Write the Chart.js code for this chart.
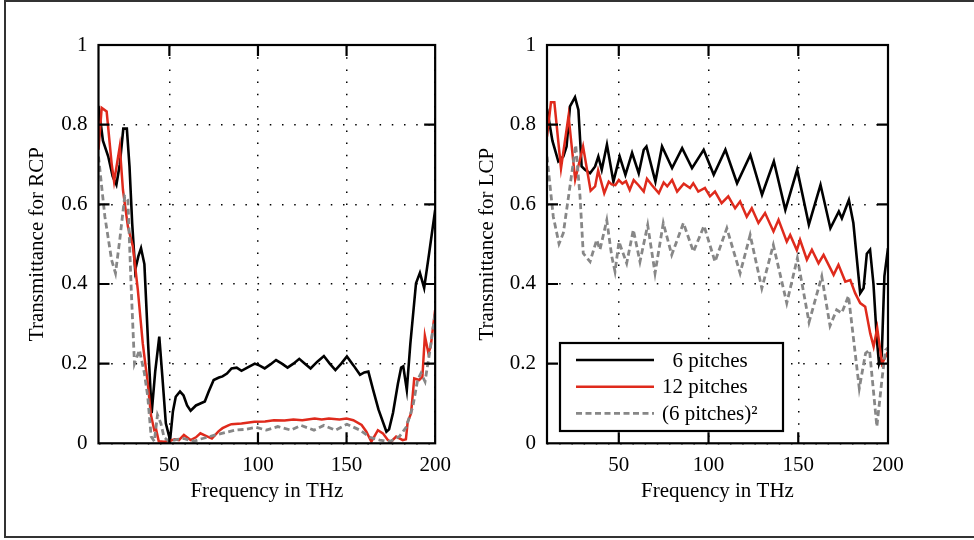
<!DOCTYPE html>
<html>
<head>
<meta charset="utf-8">
<script src="https://cdn.jsdelivr.net/npm/chart.js@4.4.0/dist/chart.umd.min.js"></script>
<style>
  html, body { margin: 0; padding: 0; background: #fff; }
  body { width: 974px; height: 540px; position: relative; overflow: hidden; }
  .frame { position: absolute; left: 4px; top: 0; width: 1000px; height: 534px; border: 2px solid #333; }
  canvas { position: absolute; top: 0; }
  #chartRcp { left: 0; }
  #chartLcp { left: 460px; }
</style>
</head>
<body>
<div class="frame"></div>
<canvas id="chartRcp" width="460" height="540"></canvas>
<canvas id="chartLcp" width="514" height="540"></canvas>
<script>
// RCP, 6 pitches
const rcpFreq6 = [10,12.5,15.5,18,20.1,22,24,26,27.5,29,30.7,32.5,34,35.9,38,40,42,44.3,46,48,50.4,52,53.6,56,58,60,62,65,67.5,70,72.2,75,78,80,82.5,85.1,88,90.7,94,98.2,101,103.8,107,110.2,113.5,116.7,120,123.3,126.5,129.7,133.5,137.2,140.5,143.7,147,150.2,154,157.6,160,162.3,165,168,172.5,174,176.2,179,180.8,182,184,186,189.2,191.4,193.8,196.6,200];
const rcp6 = [0.847,0.76,0.72,0.67,0.649,0.70,0.79,0.79,0.695,0.553,0.435,0.47,0.49,0.45,0.25,0.076,0.18,0.268,0.17,0.05,0.008,0.08,0.117,0.13,0.12,0.095,0.082,0.095,0.1,0.105,0.13,0.159,0.165,0.168,0.175,0.188,0.19,0.182,0.19,0.2,0.195,0.188,0.198,0.209,0.2,0.19,0.2,0.212,0.2,0.188,0.205,0.219,0.2,0.184,0.2,0.218,0.195,0.172,0.178,0.18,0.134,0.085,0.029,0.035,0.076,0.15,0.19,0.193,0.134,0.25,0.402,0.428,0.39,0.477,0.586];

// RCP, 12 pitches
const rcpFreq12 = [10,11.8,14.6,17.4,18.8,22,23.8,26.6,29.4,32.2,35,37.8,39.6,41.5,42.5,44,47,50,53,55.4,58.2,62,65,67.5,70,74,77.7,80,83.3,85,90.7,98,104,109,115,120,125,128,132,136,140,146,150,153.8,158.5,161.2,164,167.7,170.5,173.3,175.1,178,181.7,183.5,184.5,186.4,188.2,191,192.8,194.2,196.2,197.5,200];
const rcp12 = [0.737,0.842,0.833,0.703,0.657,0.745,0.636,0.544,0.494,0.385,0.25,0.151,0.071,0.033,0.035,0.005,0.004,0.006,0.01,0.008,0.021,0.008,0.015,0.025,0.02,0.012,0.03,0.038,0.045,0.048,0.05,0.054,0.055,0.058,0.057,0.06,0.058,0.06,0.062,0.06,0.062,0.06,0.062,0.058,0.046,0.029,0.004,0.033,0.025,0.008,0.004,0.017,0.008,0.01,0.054,0.075,0.163,0.159,0.167,0.27,0.226,0.243,0.335];

// RCP, (6 pitches)^2
const rcpFreqSq = [10,13.6,17.4,19.6,22,24.8,26.6,28.5,30.3,33.1,35.9,37.8,39.7,41.5,43.3,45.2,47,49.7,54.5,58,63.8,67,71.3,75,79.6,87,93,99,104.7,111.2,118.6,124.2,131.6,137.2,143.7,150.2,157.6,163.2,168.8,174.2,179.8,183.6,187.4,190.1,192,194.3,197.1,200];
const rcpSq = [0.72,0.569,0.46,0.427,0.511,0.62,0.61,0.385,0.2,0.234,0.176,0.117,0.017,0.005,0.071,0.05,0.015,0.005,0.01,0.012,0.005,0.01,0.015,0.02,0.025,0.033,0.035,0.04,0.033,0.042,0.033,0.045,0.033,0.045,0.033,0.048,0.033,0.015,0.008,0.004,0.017,0.04,0.092,0.159,0.176,0.155,0.234,0.327];

// LCP, 6 pitches
const lcpFreq6 = [10,13,16.3,19.1,20.9,22.8,25.6,27.5,29.3,31.2,34,36.8,38.6,40.5,43.4,47,50.5,53.7,57.4,61.1,63.9,65.4,70.4,74.1,79.7,85.3,90.8,97.3,102.9,109.4,115.9,123.3,129.8,136.4,142.8,149.4,155.9,162.4,167.9,172.6,174.3,178.2,180.7,184.5,186.4,188.2,190,191.9,193.8,195,196.5,198,200];
const lcp6 = [0.84,0.76,0.708,0.72,0.745,0.846,0.869,0.837,0.695,0.687,0.678,0.695,0.72,0.687,0.75,0.657,0.72,0.674,0.729,0.678,0.737,0.745,0.657,0.745,0.691,0.741,0.691,0.737,0.674,0.737,0.653,0.724,0.624,0.708,0.586,0.687,0.549,0.649,0.54,0.582,0.565,0.611,0.553,0.377,0.39,0.476,0.486,0.40,0.26,0.2,0.22,0.42,0.49];

// LCP, 12 pitches
const lcpFreq12 = [10,10.9,12.2,14.1,17.8,22,25.7,30.1,34.3,36.8,38.5,41.9,44.4,46,48.1,50,52,54,56.1,58.3,61,63.9,65.7,68.5,72.3,75,77,79.7,82.5,86.2,89.7,91.5,94.3,98,100.8,103.6,107.3,111,114.8,117.6,121.3,124.1,127.8,131.5,136.2,139,143.6,145.5,149.2,151,154.8,157.6,161.3,164.1,169.7,172.4,176.2,179,181.7,184.5,187.3,190.1,192,194,196.7,200];
const lcp12 = [0.77,0.804,0.856,0.856,0.69,0.822,0.662,0.745,0.634,0.645,0.685,0.628,0.657,0.65,0.648,0.661,0.652,0.658,0.636,0.661,0.648,0.632,0.664,0.648,0.628,0.655,0.645,0.661,0.632,0.652,0.641,0.653,0.632,0.641,0.62,0.632,0.603,0.62,0.59,0.607,0.569,0.59,0.553,0.578,0.532,0.561,0.506,0.523,0.485,0.511,0.461,0.486,0.452,0.473,0.423,0.448,0.406,0.41,0.377,0.352,0.343,0.276,0.243,0.289,0.2,0.23];

// LCP, (6 pitches)^2
const lcpFreqSq = [10,13.5,16.7,19.1,22.8,26,28.4,30.2,34,37.7,39.5,43.3,46.1,47.9,50.1,54.4,58.1,61.8,66.1,70.2,74.8,79.5,86,91.6,97.5,103.6,110.2,117.6,123.2,129.7,136.1,143.6,149.5,156,163.1,167.7,171.4,174.2,178,184,187.5,189.7,193.8,196.6,198.6,200];
const lcpSq = [0.72,0.569,0.501,0.528,0.645,0.749,0.62,0.477,0.456,0.511,0.486,0.56,0.469,0.431,0.506,0.452,0.536,0.456,0.548,0.427,0.553,0.473,0.553,0.481,0.546,0.456,0.54,0.427,0.523,0.389,0.498,0.352,0.465,0.304,0.419,0.295,0.335,0.327,0.37,0.138,0.226,0.234,0.042,0.159,0.234,0.24];

const seriesNames = ['6 pitches', '12 pitches', '(6 pitches)\u00b2'];
const xTicks = [50, 100, 150, 200];
const yTicks = [0, 0.2, 0.4, 0.6, 0.8, 1];

const serif = '"Liberation Serif", "Times New Roman", serif';
const font = { family: serif, size: 21 };

function points(freq, vals) {
  return freq.map((f, i) => ({ x: f, y: vals[i] }));
}

// box round the plot area plus the little inward ticks
const box = {
  id: 'box',
  afterDatasetsDraw(chart) {
    const { ctx, chartArea: a, scales: { x, y } } = chart;
    ctx.save();
    ctx.strokeStyle = '#000';
    ctx.lineWidth = 2.2;
    ctx.beginPath();
    xTicks.slice(0, -1).forEach(v => {
      const px = x.getPixelForValue(v);
      ctx.moveTo(px, a.top); ctx.lineTo(px, a.top + 11);
      ctx.moveTo(px, a.bottom); ctx.lineTo(px, a.bottom - 11);
    });
    yTicks.slice(1, -1).forEach(v => {
      const py = y.getPixelForValue(v);
      ctx.moveTo(a.left, py); ctx.lineTo(a.left + 11, py);
      ctx.moveTo(a.right, py); ctx.lineTo(a.right - 11, py);
    });
    ctx.stroke();
    ctx.strokeRect(a.left, a.top, a.right - a.left, a.bottom - a.top);
    ctx.restore();
  }
};

// legend sits inside the LCP plot, bottom left
const legendBox = {
  id: 'legendBox',
  afterDraw(chart) {
    const { ctx, chartArea: a } = chart;
    const left = a.left + 13, top = a.top + 298, w = 223, h = 88;
    ctx.save();
    ctx.fillStyle = '#fff';
    ctx.fillRect(left, top, w, h);
    ctx.strokeStyle = '#000';
    ctx.lineWidth = 2.2;
    ctx.strokeRect(left, top, w, h);

    ctx.font = '21px ' + serif;
    ctx.textBaseline = 'middle';
    const textX = left + 102;
    const right12 = textX + ctx.measureText(seriesNames[1]).width;
    const rows = [17, 43.7, 70.3];

    chart.data.datasets.forEach((ds, i) => {
      const ry = top + rows[i];
      ctx.strokeStyle = ds.borderColor;
      ctx.lineWidth = ds.borderWidth;
      ctx.setLineDash(ds.borderDash || []);
      ctx.beginPath();
      ctx.moveTo(left + 16, ry);
      ctx.lineTo(left + 94, ry);
      ctx.stroke();
      ctx.setLineDash([]);

      ctx.fillStyle = '#000';
      if (i === 0) {
        ctx.textAlign = 'right';
        ctx.fillText(ds.label, right12, ry + 1);
      } else {
        ctx.textAlign = 'left';
        ctx.fillText(ds.label, textX, ry + 1);
      }
    });
    ctx.restore();
  }
};

function makeChart(canvasId, yTitle, d6, d12, dSq, yAxisWidth, yTitlePad, padRight, extraPlugins) {
  return new Chart(document.getElementById(canvasId), {
    type: 'line',
    data: {
      datasets: [
        { label: seriesNames[0], data: d6, borderColor: '#000', borderWidth: 2.6, order: 3 },
        { label: seriesNames[1], data: d12, borderColor: '#df2a1c', borderWidth: 2.5, order: 2 },
        { label: seriesNames[2], data: dSq, borderColor: '#878787', borderWidth: 2.8, borderDash: [6, 3.5], order: 1 }
      ]
    },
    options: {
      responsive: false,
      animation: false,
      devicePixelRatio: 1,
      elements: { point: { radius: 0 }, line: { tension: 0 } },
      layout: { padding: { left: 0, right: padRight, top: 45, bottom: 26.7 } },
      plugins: { legend: { display: false }, tooltip: { enabled: false } },
      scales: {
        x: {
          type: 'linear', min: 10, max: 200,
          afterBuildTicks: s => { s.ticks = xTicks.map(v => ({ value: v })); },
          afterFit: s => { s.height = 70; },
          grid: { color: '#000', lineWidth: 1.5, drawTicks: false },
          border: { display: false, dash: [1.5, 10.7] },
          ticks: { padding: 9.1, color: '#000', font: font, maxRotation: 0, autoSkip: false },
          title: { display: true, text: 'Frequency in THz', color: '#000', font: font, padding: { top: 0, bottom: 9.2 } }
        },
        y: {
          type: 'linear', min: 0, max: 1,
          afterBuildTicks: s => { s.ticks = yTicks.map(v => ({ value: v })); },
          afterFit: s => { s.width = yAxisWidth; },
          grid: { color: '#000', lineWidth: 1.5, drawTicks: false },
          border: { display: false, dash: [1.5, 10.7] },
          ticks: { padding: 11, color: '#000', font: font, callback: v => String(+v.toFixed(1)) },
          title: { display: true, text: yTitle, color: '#000', font: font, padding: { top: yTitlePad, bottom: 0 } }
        }
      }
    },
    plugins: [box].concat(extraPlugins)
  });
}

makeChart('chartRcp', 'Transmittance for RCP',
  points(rcpFreq6, rcp6), points(rcpFreq12, rcp12), points(rcpFreqSq, rcpSq),
  98.5, 25.3, 20, []);

makeChart('chartLcp', 'Transmittance for LCP',
  points(lcpFreq6, lcp6), points(lcpFreq12, lcp12), points(lcpFreqSq, lcpSq),
  87, 15.3, 86, [legendBox]);
</script>
</body>
</html>
